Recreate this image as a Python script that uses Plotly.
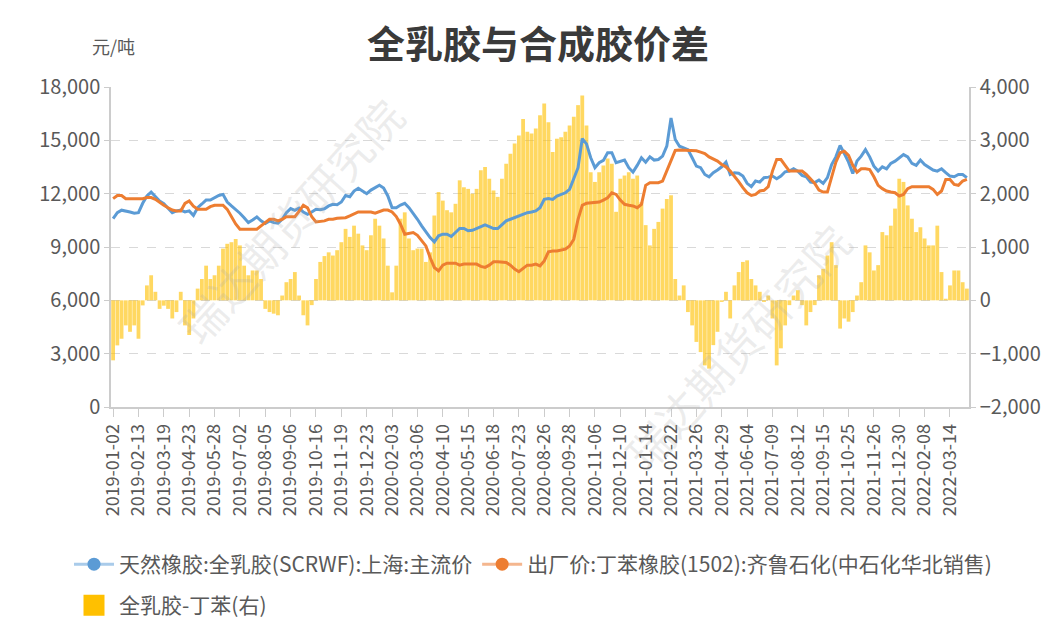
import numpy as np
import pandas as pd
import plotly.graph_objects as go

# ---------------- data ----------------
tick_labels = [
    "2019-01-02", "2019-02-13", "2019-03-19", "2019-04-23", "2019-05-28", "2019-07-02",
    "2019-08-05", "2019-09-06", "2019-10-16", "2019-11-19", "2019-12-23", "2020-02-03",
    "2020-03-06", "2020-04-10", "2020-05-15", "2020-06-18", "2020-07-23", "2020-08-26",
    "2020-09-28", "2020-11-06", "2020-12-10", "2021-01-14", "2021-02-22", "2021-03-26",
    "2021-04-29", "2021-06-04", "2021-07-09", "2021-08-12", "2021-09-15", "2021-10-25",
    "2021-11-26", "2021-12-30", "2022-02-08", "2022-03-14",
]

# 天然橡胶:全乳胶(SCRWF):上海:主流价 (元/吨), sampled every 4 trading days
natural_rubber = [
    10600, 10930, 11070, 11030, 10970, 10900, 10930, 11460, 11870, 12090,
    11830, 11590, 11440, 11160, 10930, 11030, 11080, 10970, 11030, 10780,
    11210, 11420, 11640, 11640, 11770, 11900, 11960, 11530, 11310, 11120,
    10900, 10650, 10370, 10520, 10690, 10470, 10320, 10470, 10370, 10340,
    10560, 10930, 11160, 11060, 11190, 10970, 10840, 10970, 11120, 11100,
    11150, 11310, 11400, 11380, 11530, 11900, 11830, 12150, 12300, 12150,
    12000, 12200, 12340, 12470, 12320, 11870, 11210, 11210, 11360, 11460,
    11210, 10900, 10560, 10190, 9870, 9530, 9290, 9630, 9720, 9720,
    9590, 9810, 10040, 10040, 9910, 9940, 10040, 10150, 10240, 10150,
    10040, 10040, 10280, 10470, 10560, 10650, 10750, 10840, 10930, 10970,
    11030, 11210, 11680, 11720, 11680, 11870, 11960, 12050, 12240, 12800,
    13460, 15100, 14800, 14020, 13460, 13740, 13870, 14300, 14300, 13740,
    13830, 13890, 13460, 13210, 13590, 14020, 13770, 14070, 13890, 13920,
    14110, 14670, 16260, 15050, 14670, 14580, 14480, 14020, 13550, 13460,
    13080, 12950, 13180, 13330, 13510, 13770, 13080, 13180, 13150, 12990,
    12580, 12390, 12710, 12650, 12900, 12930, 12990, 12840, 12990, 13230,
    13270, 13400, 13270, 13030, 12950, 12650, 12620, 12770, 12580, 12900,
    13640, 14070, 14710, 14260, 13770, 13140, 13830, 14110, 14480, 14070,
    13550, 13270, 13510, 13400, 13700, 13830, 14020, 14200, 14070, 13700,
    13590, 13890, 13640, 13460, 13330, 13270, 13400, 13180, 12990, 12950,
    13080, 13080, 12900,
]

# 出厂价:丁苯橡胶(1502):齐鲁石化(中石化华北销售) (元/吨)
sbr_price = [
    11720, 11900, 11900, 11720, 11720, 11720, 11720, 11720, 11780, 11780,
    11680, 11500, 11350, 11210, 11080, 11030, 11030, 11450, 11590, 11300,
    11120, 11120, 11120, 11270, 11350, 11350, 11350, 11120, 10700, 10300,
    10000, 10000, 10000, 10000, 10000, 10190, 10400, 10560, 10560, 10470,
    10560, 10700, 10700, 10700, 11000, 11350, 11200, 10700, 10410, 10440,
    10470, 10560, 10560, 10620, 10650, 10650, 10750, 10880, 10970, 10970,
    10970, 10970, 10900, 10970, 11080, 11080, 10970, 10710, 10280, 9720,
    9780, 9810, 9660, 9350, 9060, 8410, 7850, 7660, 7980, 8090,
    8090, 8090, 7980, 8040, 8040, 8040, 8040, 7910, 7850, 7980,
    8170, 8170, 8170, 8130, 7980, 7760, 7610, 7790, 7980, 7980,
    8040, 7940, 8220, 8730, 8780, 8780, 8840, 8880, 9060, 9440,
    10560, 11350, 11460, 11490, 11530, 11530, 11640, 11770, 12050, 11960,
    11640, 11400, 11350, 11310, 11210, 11400, 12470, 12620, 12620, 12620,
    12710, 13270, 13920, 14430, 14450, 14450, 14450, 14450, 14410, 14340,
    14260, 14070, 13960, 13830, 13640, 13510, 13270, 12990, 12680, 12340,
    12050, 11900, 11960, 12150, 12190, 12390, 13270, 13920, 13920, 13590,
    13270, 13270, 13270, 13270, 13080, 12840, 12580, 12200, 12090, 12090,
    12900, 13770, 14300, 14390, 14150, 13590, 13210, 13400, 13400, 13360,
    12950, 12470, 12280, 12150, 12090, 12050, 11870, 11960, 12280, 12390,
    12390, 12390, 12390, 12390, 12240, 11960, 12150, 12800, 12800, 12520,
    12470, 12710, 12800,
]

# 全乳胶-丁苯(右) (元/吨)
spread = [
    -1125, -845, -720, -470, -590, -470, -720, -95, 280, 470,
    160, -160, -100, -160, -340, -220, 160, -470, -650, -340,
    220, 400, 650, 400, 470, 650, 970, 1060, 1090, 1150,
    1030, 650, 470, 560, 560, 400, -160, -220, -250, -280,
    90, 340, 400, 530, 90, -280, -470, -90, 400, 720,
    830, 900, 840, 940, 1090, 1340, 1190, 1400, 1250, 1030,
    940, 1220, 1530, 1400, 1160, 650, 150, 650, 1530, 1650,
    1160, 940, 970, 970, 720, 900, 1590, 2030, 1870, 1690,
    1650, 1810, 2250, 2120, 2090, 2000, 2090, 2440, 2500, 2280,
    2060, 1940, 2280, 2560, 2750, 2940, 3090, 3400, 3160, 3130,
    3220, 3470, 3690, 3340, 2780, 3030, 3060, 3160, 3280, 3440,
    3660, 3840, 3280, 2400, 2220, 2400, 2530, 2660, 2560, 1660,
    2280, 2340, 2400, 2280, 2340, 1840, 1410, 1030, 1340, 1470,
    1720, 1900, 1970, 400, 90, 280, -220, -470, -780, -970,
    -1220, -1280, -840, -590, -30, 160, -340, 280, 530, 720,
    750, 400, 280, 160, -30, 90, -340, -1220, -900, -470,
    -90, 90, 190, -90, -470, -220, -90, 470, 590, 840,
    1090, 660, -530, -340, -400, -220, 90, 340, 1030, 900,
    560, 660, 1280, 1220, 1400, 1720, 2280, 2220, 1780, 1530,
    1280, 1370, 1160, 1030, 1030, 1400, 530, 30, 280, 560,
    560, 340, 220,
]

series_names = [
    "天然橡胶:全乳胶(SCRWF):上海:主流价",
    "出厂价:丁苯橡胶(1502):齐鲁石化(中石化华北销售)",
    "全乳胶-丁苯(右)",
]

# ---------------- categories (trading dates) ----------------
DAYS_PER_LABEL = 24   # trading days between labelled dates
STEP = 4              # sampling step of the series (trading days)
TAIL_DAYS = 20        # trading days after the last label

daily = []
for a, b in zip(tick_labels[:-1], tick_labels[1:]):
    seg = pd.bdate_range(a, b, inclusive="left")
    idx = np.round(np.linspace(0, len(seg) - 1, DAYS_PER_LABEL)).astype(int)
    daily += [seg[k].strftime("%Y-%m-%d") for k in idx]
daily += [d.strftime("%Y-%m-%d") for d in pd.bdate_range(tick_labels[-1], periods=TAIL_DAYS)]
dates = daily[::STEP]

n = len(dates)
assert len(natural_rubber) == n and len(sbr_price) == n and len(spread) == n

# ---------------- figure ----------------
BLUE = "#5B9BD5"
ORANGE = "#ED7D31"
GOLD = "#FFC000"
TXT = "#595959"
AX = "#cccccc"
FONT = "Noto Sans CJK SC"

W, H = 1045, 618          # page has an 8px body margin
PL, PR, PT, PB = 103, 84, 79, 219
PH = H - PT - PB          # plot height in px
PW = W - PL - PR          # plot width in px

fig = go.Figure()

fig.add_trace(go.Bar(
    x=dates, y=spread, yaxis="y", name=series_names[2],
    marker=dict(color="rgba(255,192,0,0.62)", line=dict(width=0)),
    showlegend=False,
))
fig.add_trace(go.Scatter(
    x=dates, y=natural_rubber, yaxis="y2", mode="lines", name=series_names[0],
    line=dict(color=BLUE, width=3), showlegend=False,
))
fig.add_trace(go.Scatter(
    x=dates, y=sbr_price, yaxis="y2", mode="lines", name=series_names[1],
    line=dict(color=ORANGE, width=3), showlegend=False,
))

# legend entries
fig.add_trace(go.Scatter(
    x=[None], y=[None], yaxis="y2", mode="lines+markers", name=series_names[0],
    line=dict(color="#A9CBEA", width=3), marker=dict(color=BLUE, size=13),
    legend="legend",
))
fig.add_trace(go.Scatter(
    x=[None], y=[None], yaxis="y2", mode="lines+markers", name=series_names[1],
    line=dict(color="#F4B68E", width=3), marker=dict(color=ORANGE, size=13),
    legend="legend",
))
fig.add_trace(go.Scatter(
    x=[None], y=[None], yaxis="y", mode="markers", name=series_names[2],
    marker=dict(color=GOLD, size=16, symbol="square", line=dict(color=GOLD, width=5)),
    legend="legend2",
))

legend_common = dict(
    orientation="h", x=(61 - PL) / PW, xanchor="left", yanchor="top",
    font=dict(family=FONT, size=21, color=TXT), itemwidth=40,
    bgcolor="rgba(0,0,0,0)", itemclick=False, itemdoubleclick=False,
)

fig.update_layout(
    width=W, height=H,
    template="none",
    paper_bgcolor="white", plot_bgcolor="white",
    margin=dict(l=PL, r=PR, t=PT, b=PB, autoexpand=False),
    font=dict(family=FONT, size=20, color=TXT),
    barmode="overlay", bargap=0.1,
    title=dict(
        text="<b>全乳胶与合成胶价差</b>",
        x=530 / W, xanchor="center", xref="container",
        y=1 - 37 / H, yanchor="middle", yref="container",
        font=dict(family=FONT, size=38, color="#3a3a3a"),
    ),
    xaxis=dict(
        type="category", categoryorder="array", categoryarray=dates,
        range=[-0.5, n - 0.5],
        tickmode="array", tickvals=tick_labels, ticktext=tick_labels,
        tickangle=-90, tickfont=dict(size=18, color=TXT),
        ticks="outside", ticklen=8, tickcolor=AX,
        showline=True, linecolor=AX, linewidth=1.5,
        showgrid=False, zeroline=False, automargin=False,
    ),
    yaxis=dict(
        side="right", range=[-2000, 4000], dtick=1000, tick0=0,
        tickformat=",d", tickfont=dict(size=20, color=TXT),
        ticks="outside", ticklen=5, tickcolor=AX,
        showline=True, linecolor=AX, linewidth=1.5,
        showgrid=True, gridcolor="#d9d9d9", griddash="dash", gridwidth=1,
        zeroline=False, automargin=False,
    ),
    yaxis2=dict(
        overlaying="y", side="left", anchor="x",
        range=[0, 18000], dtick=3000, tick0=0,
        tickformat=",d", tickfont=dict(size=20, color=TXT),
        ticks="outside", ticklen=5, tickcolor=AX,
        showline=True, linecolor=AX, linewidth=1.5,
        showgrid=False, zeroline=False, automargin=False,
    ),
    legend=dict(legend_common, y=(PT + PH - 536) / PH),
    legend2=dict(legend_common, y=(PT + PH - 577) / PH),
    annotations=[
        dict(text="元/吨", xref="paper", yref="paper", x=(105 - PL) / PW,
             y=(PT + PH - 38) / PH,
             xanchor="center", yanchor="middle", showarrow=False,
             font=dict(family=FONT, size=18, color=TXT)),
        dict(text="瑞达期货研究院", xref="paper", yref="paper", x=0.209, y=0.584,
             xanchor="center", yanchor="middle", showarrow=False, textangle=-48,
             font=dict(family=FONT, size=44, color="rgba(170,170,170,0.22)")),
        dict(text="瑞达期货研究院", xref="paper", yref="paper", x=0.73, y=0.19,
             xanchor="center", yanchor="middle", showarrow=False, textangle=-48,
             font=dict(family=FONT, size=44, color="rgba(170,170,170,0.22)")),
    ],
)

fig.write_html("out.html")
